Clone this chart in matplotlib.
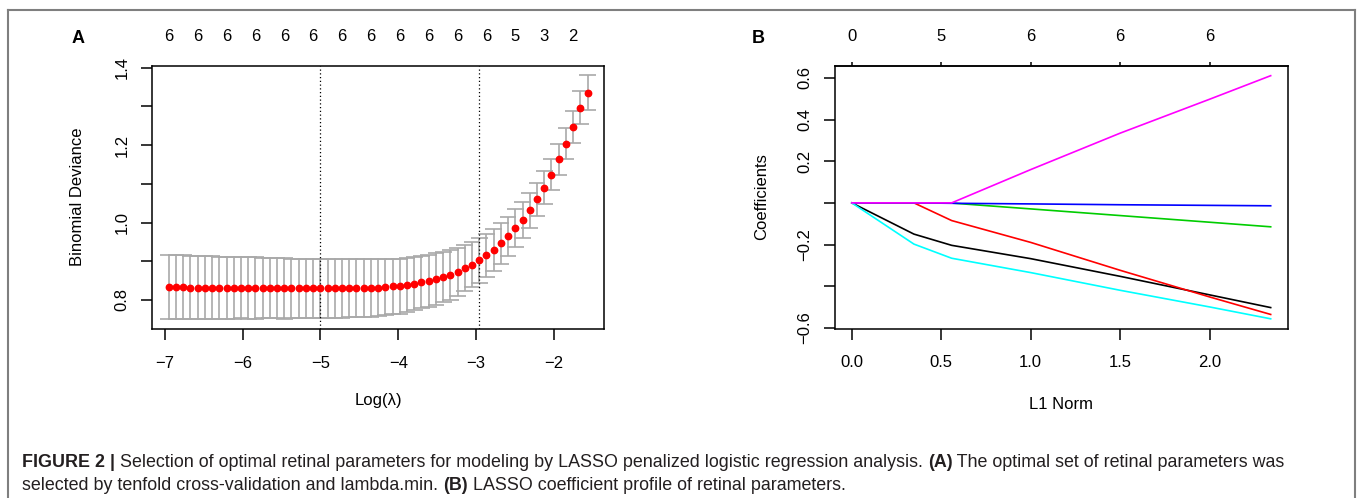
import numpy as np
import matplotlib
matplotlib.use("Agg")
import matplotlib.pyplot as plt
from matplotlib.lines import Line2D

plt.rcParams['font.family'] = ['Liberation Sans', 'DejaVu Sans']

# ---- panel A : cross-validation curve ----
log_lambda = [-6.947, -6.854, -6.761, -6.669, -6.576, -6.483, -6.391, -6.298, -6.205, -6.112,
              -6.020, -5.927, -5.834, -5.742, -5.649, -5.556, -5.464, -5.371, -5.278, -5.185,
              -5.093, -5.000, -4.907, -4.815, -4.722, -4.629, -4.537, -4.444, -4.351, -4.258,
              -4.166, -4.073, -3.980, -3.888, -3.795, -3.702, -3.610, -3.517, -3.424, -3.332,
              -3.239, -3.146, -3.053, -2.960, -2.868, -2.775, -2.682, -2.590, -2.497, -2.404,
              -2.312, -2.219, -2.126, -2.034, -1.941, -1.848, -1.756, -1.663, -1.570]
cvm = [0.833, 0.833, 0.833, 0.832, 0.832, 0.832, 0.832, 0.832, 0.832, 0.832,
       0.832, 0.831, 0.831, 0.831, 0.831, 0.831, 0.830, 0.830, 0.830, 0.830,
       0.830, 0.830, 0.830, 0.830, 0.830, 0.830, 0.830, 0.830, 0.831, 0.832,
       0.833, 0.835, 0.836, 0.838, 0.842, 0.846, 0.849, 0.854, 0.859, 0.865,
       0.873, 0.882, 0.891, 0.902, 0.915, 0.929, 0.946, 0.964, 0.985, 1.006,
       1.032, 1.060, 1.090, 1.124, 1.164, 1.204, 1.247, 1.297, 1.335]
cvsd = [0.082, 0.082, 0.082, 0.082, 0.081, 0.081, 0.081, 0.080, 0.080, 0.080,
        0.079, 0.079, 0.079, 0.078, 0.078, 0.078, 0.078, 0.077, 0.077, 0.077,
        0.077, 0.076, 0.076, 0.076, 0.076, 0.075, 0.075, 0.075, 0.074, 0.073,
        0.073, 0.072, 0.071, 0.070, 0.068, 0.067, 0.066, 0.066, 0.065, 0.064,
        0.062, 0.060, 0.058, 0.057, 0.056, 0.054, 0.052, 0.050, 0.049, 0.047,
        0.045, 0.043, 0.042, 0.041, 0.040, 0.040, 0.042, 0.043, 0.045]
nz_top = [6, 6, 6, 6, 6, 6, 6, 6, 6, 6, 6, 6, 5, 3, 2]
lambda_min = -5.000
lambda_1se = -2.960

# ---- panel B : coefficient paths ----
l1_norm = [0.0, 0.347, 0.558, 1.0, 1.5, 2.0, 2.341]
coef_black = [0.0, -0.150, -0.204, -0.268, -0.353, -0.442, -0.503]
coef_red = [0.0, 0.0, -0.085, -0.190, -0.324, -0.452, -0.536]
coef_green = [0.0, 0.0, -0.001, -0.029, -0.061, -0.093, -0.115]
coef_blue = [0.0, 0.0, -0.002, -0.005, -0.009, -0.012, -0.014]
coef_cyan = [0.0, -0.198, -0.266, -0.335, -0.420, -0.500, -0.557]
coef_magenta = [0.0, 0.0, 0.0, 0.160, 0.335, 0.498, 0.611]
df_ticks = [0.0, 0.5, 1.0, 1.5, 2.0]
df_labels = ['0', '5', '6', '6', '6']

W, H = 1358, 498
fs = 12

def fx(x):
    return x / W

def fy(y):
    return 1 - y / H

fig = plt.figure(figsize=(W / 100, H / 100), dpi=100)
fig.patch.set_facecolor('white')

# panel A
axA = fig.add_axes([fx(152), fy(329), 452.3 / W, 263.3 / H])
x = np.array(log_lambda)
m = np.array(cvm)
s = np.array(cvsd)
up = m + s
lo = m - s
barw = 0.02 * (x.max() - x.min())
axA.vlines(x, lo, up, color='darkgray', lw=1.2, zorder=1)
axA.hlines(up, x - barw, x + barw, color='darkgray', lw=1.2, zorder=1)
axA.hlines(lo, x - barw, x + barw, color='darkgray', lw=1.2, zorder=1)
axA.plot(x, m, 'o', color='red', ms=4.6, mec='red', zorder=3)
axA.axvline(lambda_min, color='black', lw=0.9, ls=(0, (1, 2)), zorder=2)
axA.axvline(lambda_1se, color='black', lw=0.9, ls=(0, (1, 2)), zorder=2)
axA.set_xlim(-7.162, -1.355)
axA.set_ylim(0.725, 1.405)
axA.set_xticks([-7, -6, -5, -4, -3, -2])
axA.set_yticks([0.8, 0.9, 1.0, 1.1, 1.2, 1.3, 1.4])
axA.set_yticklabels(['0.8', '', '1.0', '', '1.2', '', '1.4'])
for xv, lab in zip(x[::4], nz_top):
    axA.text(xv, 1.0 + (65.7 - 36.5) / 263.3, str(lab), transform=axA.get_xaxis_transform(),
             ha='center', va='center', fontsize=fs)

# panel B
axB = fig.add_axes([fx(835), fy(328.6), 452.5 / W, 262.7 / H])
cols = ['black', 'red', '#00CD00', 'blue', 'cyan', 'magenta']
paths = [coef_black, coef_red, coef_green, coef_blue, coef_cyan, coef_magenta]
for c, p in zip(cols, paths):
    axB.plot(l1_norm, p, color=c, lw=1.2)
axB.set_xlim(-0.094, 2.435)
axB.set_ylim(-0.604, 0.658)
axB.set_xticks([0.0, 0.5, 1.0, 1.5, 2.0])
axB.set_xticklabels(['0.0', '0.5', '1.0', '1.5', '2.0'])
axB.set_yticks([-0.6, -0.4, -0.2, 0.0, 0.2, 0.4, 0.6])
axB.set_yticklabels(['\u22120.6', '', '\u22120.2', '', '0.2', '0.4', '0.6'])
sec = axB.secondary_xaxis('top')
sec.set_xticks(df_ticks)
sec.set_xticklabels(df_labels)
sec.tick_params(length=3, width=1.1, pad=13, labelsize=fs)
sec.spines['top'].set_linewidth(1.1)

for ax in (axA, axB):
    for sp in ax.spines.values():
        sp.set_linewidth(1.1)
    ax.tick_params(axis='x', direction='out', length=7.8, width=1.1, pad=11.5, labelsize=fs)
    ax.tick_params(axis='y', direction='out', length=7.8, width=1.1, pad=8.3, labelsize=fs,
                   labelrotation=90)
    for t in ax.get_yticklabels():
        t.set_va('center')

fig.text(fx(378), fy(400), 'Log(\u03bb)', ha='center', va='center', fontsize=fs)
fig.text(fx(77), fy(197), 'Binomial Deviance', ha='center', va='center', rotation=90, fontsize=fs)
fig.text(fx(1061), fy(404), 'L1 Norm', ha='center', va='center', fontsize=fs)
fig.text(fx(762), fy(197), 'Coefficients', ha='center', va='center', rotation=90, fontsize=fs)
fig.text(fx(78), fy(38), 'A', ha='center', va='center', fontsize=13, fontweight='bold')
fig.text(fx(758), fy(38), 'B', ha='center', va='center', fontsize=13, fontweight='bold')

# outer frame
fc = '#7f7f7f'
fig.add_artist(Line2D([fx(8), fx(8)], [fy(10), 0], color=fc, lw=1.5, transform=fig.transFigure))
fig.add_artist(Line2D([fx(8), fx(1355)], [fy(10), fy(10)], color=fc, lw=1.5, transform=fig.transFigure))
fig.add_artist(Line2D([fx(1355), fx(1355)], [fy(10), 0], color=fc, lw=1.5, transform=fig.transFigure))

# caption
line1 = [('FIGURE 2 | ', 'bold'),
         ('Selection of optimal retinal parameters for modeling by LASSO penalized logistic regression analysis. ', 'normal'),
         ('(A)', 'bold'),
         (' The optimal set of retinal parameters was', 'normal')]
line2 = [('selected by tenfold cross-validation and lambda.min. ', 'normal'),
         ('(B)', 'bold'),
         (' LASSO coefficient profile of retinal parameters.', 'normal')]
r = fig.canvas.get_renderer()
cap_fs = 12.9
for parts, yy in ((line1, 462), (line2, 485)):
    xx = 22
    for txt, wgt in parts:
        t = fig.text(fx(xx), fy(yy), txt, ha='left', va='center', fontsize=cap_fs,
                     fontweight=wgt, color='#231f20')
        xx += t.get_window_extent(renderer=r).width

fig.savefig('out.png', dpi=100)
